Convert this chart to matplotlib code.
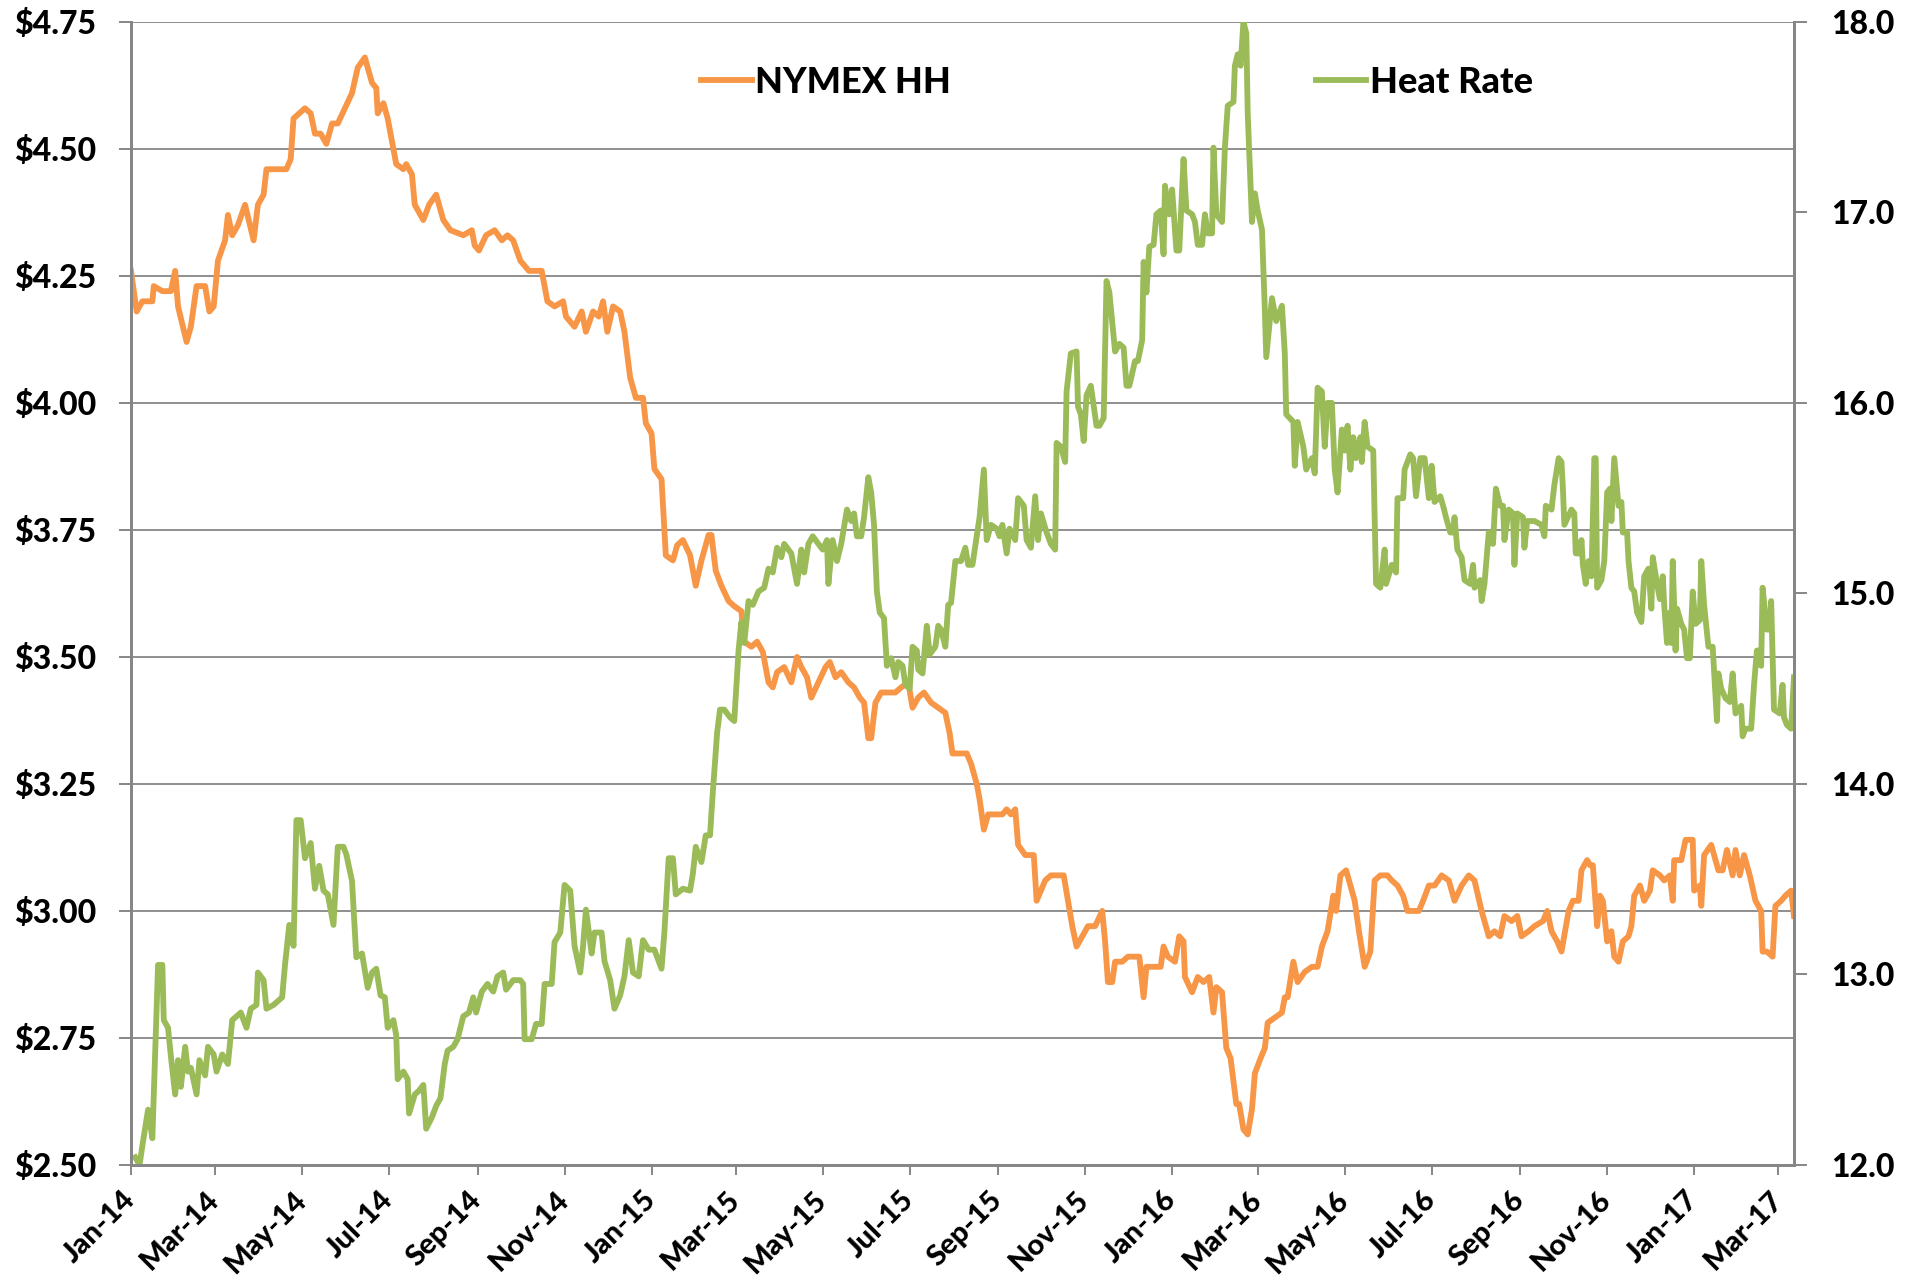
import matplotlib
matplotlib.use('Agg')
import matplotlib.pyplot as plt
import matplotlib.dates as mdates
import pandas as pd

plt.rcParams['font.family'] = ['Lato', 'DejaVu Sans']
plt.rcParams['font.weight'] = 'black'

START = pd.Timestamp('2014-01-01')

# NYMEX Henry Hub price ($/MMBtu), days since 2014-01-01
hh_days = [0, 4, 8, 15, 16, 22, 28, 31, 33, 39, 42, 46, 52, 55, 58, 61, 66, 68, 71, 75,
           80, 86, 89, 93, 95, 99, 106, 109, 112, 114, 122, 126, 129, 133, 137, 141, 145, 150, 155, 159,
           164, 169, 172, 173, 177, 180, 186, 191, 193, 197, 199, 205, 209, 214, 219, 224, 233, 239, 241, 244,
           249, 255, 260, 264, 268, 273, 279, 288, 292, 297, 303, 305, 311, 316, 319, 324, 328, 331, 334, 338,
           343, 346, 350, 354, 359, 361, 365, 367, 372, 375, 380, 383, 387, 392, 396, 400, 405, 407, 410, 414,
           419, 423, 428, 430, 435, 439, 443, 447, 450, 453, 458, 463, 467, 470, 474, 477, 482, 487, 490, 494,
           498, 503, 507, 511, 514, 517, 519, 522, 526, 531, 536, 540, 545, 548, 552, 556, 561, 566, 571, 574,
           576, 581, 586, 589, 593, 595, 598, 601, 605, 611, 614, 617, 620, 622, 627, 633, 635, 638, 641, 645,
           650, 654, 657, 660, 663, 667, 671, 676, 681, 683, 685, 688, 690, 695, 699, 704, 707, 710, 712, 717,
           722, 724, 727, 732, 735, 738, 739, 744, 748, 752, 756, 759, 761, 765, 768, 771, 775, 777, 780, 783,
           786, 788, 792, 795, 797, 802, 807, 809, 811, 815, 818, 823, 828, 832, 835, 839, 843, 845, 848, 852,
           855, 858, 861, 865, 869, 872, 876, 881, 884, 888, 892, 895, 903, 906, 910, 914, 919, 924, 928, 933,
           938, 942, 947, 952, 956, 960, 963, 968, 972, 975, 980, 984, 990, 993, 996, 1000, 1003, 1008, 1011, 1015,
           1017, 1021, 1023, 1025, 1028, 1030, 1032, 1035, 1038, 1040, 1043, 1046, 1050, 1052, 1054, 1058, 1061, 1065, 1067, 1072,
           1075, 1079, 1081, 1082, 1087, 1090, 1095, 1096, 1100, 1101, 1103, 1108, 1113, 1116, 1119, 1123, 1125, 1128, 1131, 1135,
           1139, 1143, 1144, 1147, 1151, 1153, 1157, 1160, 1164, 1166]
hh_price = [4.26, 4.18, 4.20, 4.20, 4.23, 4.22, 4.22, 4.26, 4.19, 4.12, 4.15, 4.23, 4.23, 4.18, 4.19, 4.28, 4.32, 4.37, 4.33, 4.35,
            4.39, 4.32, 4.39, 4.41, 4.46, 4.46, 4.46, 4.46, 4.48, 4.56, 4.58, 4.57, 4.53, 4.53, 4.51, 4.55, 4.55, 4.58, 4.61, 4.66,
            4.68, 4.63, 4.62, 4.57, 4.59, 4.56, 4.47, 4.46, 4.47, 4.45, 4.39, 4.36, 4.39, 4.41, 4.36, 4.34, 4.33, 4.34, 4.31, 4.30,
            4.33, 4.34, 4.32, 4.33, 4.32, 4.28, 4.26, 4.26, 4.20, 4.19, 4.20, 4.17, 4.15, 4.18, 4.14, 4.18, 4.17, 4.20, 4.14, 4.19,
            4.18, 4.14, 4.05, 4.01, 4.01, 3.96, 3.94, 3.87, 3.85, 3.70, 3.69, 3.72, 3.73, 3.70, 3.64, 3.69, 3.74, 3.74, 3.67, 3.64,
            3.61, 3.60, 3.59, 3.53, 3.52, 3.53, 3.51, 3.45, 3.44, 3.47, 3.48, 3.45, 3.50, 3.48, 3.46, 3.42, 3.45, 3.48, 3.49, 3.46,
            3.47, 3.45, 3.44, 3.42, 3.41, 3.34, 3.34, 3.41, 3.43, 3.43, 3.43, 3.44, 3.45, 3.40, 3.42, 3.43, 3.41, 3.40, 3.39, 3.35,
            3.31, 3.31, 3.31, 3.29, 3.25, 3.22, 3.16, 3.19, 3.19, 3.19, 3.20, 3.19, 3.20, 3.13, 3.11, 3.11, 3.02, 3.04, 3.06, 3.07,
            3.07, 3.07, 3.02, 2.97, 2.93, 2.95, 2.97, 2.97, 3.00, 2.94, 2.86, 2.86, 2.90, 2.90, 2.91, 2.91, 2.91, 2.83, 2.89, 2.89,
            2.89, 2.93, 2.91, 2.90, 2.95, 2.94, 2.87, 2.84, 2.87, 2.86, 2.87, 2.80, 2.85, 2.84, 2.73, 2.71, 2.62, 2.62, 2.57, 2.56,
            2.61, 2.68, 2.71, 2.73, 2.78, 2.79, 2.80, 2.83, 2.83, 2.90, 2.86, 2.88, 2.89, 2.89, 2.93, 2.96, 3.03, 3.00, 3.07, 3.08,
            3.05, 3.02, 2.96, 2.89, 2.92, 3.06, 3.07, 3.07, 3.06, 3.05, 3.03, 3.00, 3.00, 3.02, 3.05, 3.05, 3.07, 3.06, 3.02, 3.05,
            3.07, 3.06, 3.00, 2.95, 2.96, 2.95, 2.99, 2.98, 2.99, 2.95, 2.96, 2.97, 2.98, 3.00, 2.96, 2.94, 2.92, 3.00, 3.02, 3.02,
            3.08, 3.10, 3.09, 3.09, 2.97, 3.03, 3.02, 2.94, 2.96, 2.91, 2.90, 2.94, 2.95, 2.97, 3.03, 3.05, 3.02, 3.04, 3.08, 3.07,
            3.06, 3.07, 3.02, 3.10, 3.10, 3.14, 3.14, 3.04, 3.05, 3.01, 3.11, 3.13, 3.08, 3.08, 3.12, 3.07, 3.12, 3.07, 3.11, 3.07,
            3.02, 3.00, 2.92, 2.92, 2.91, 3.01, 3.02, 3.03, 3.04, 2.99]

# Implied heat rate, days since 2014-01-01
hr_days = [3, 6, 9, 12, 15, 17, 19, 22, 23, 26, 28, 31, 33, 35, 38, 40, 42, 46, 48, 52,
           54, 58, 60, 64, 68, 71, 77, 81, 84, 88, 89, 93, 95, 100, 106, 108, 111, 114, 116, 119,
           122, 126, 129, 132, 135, 138, 142, 145, 149, 151, 155, 158, 162, 166, 169, 172, 175, 178, 180, 184,
           186, 187, 191, 194, 195, 199, 202, 205, 207, 211, 214, 217, 220, 222, 226, 229, 233, 237, 240, 242,
           246, 250, 254, 257, 261, 263, 268, 273, 275, 276, 281, 284, 288, 290, 295, 297, 301, 304, 308, 311,
           315, 317, 319, 323, 325, 330, 332, 336, 339, 343, 346, 349, 352, 356, 359, 363, 367, 370, 372, 374,
           377, 380, 382, 387, 392, 394, 396, 400, 403, 406, 408, 411, 413, 416, 420, 423, 426, 428, 430, 433,
           436, 440, 444, 447, 450, 453, 456, 458, 463, 467, 470, 472, 475, 478, 482, 485, 488, 489, 492, 495,
           498, 502, 505, 507, 509, 512, 514, 517, 519, 521, 523, 525, 528, 530, 533, 536, 538, 541, 543, 546,
           548, 551, 552, 555, 558, 560, 564, 566, 568, 571, 573, 575, 578, 582, 585, 587, 590, 593, 595, 598,
           600, 603, 607, 609, 611, 614, 616, 620, 622, 626, 628, 631, 634, 636, 638, 642, 645, 648, 649, 652,
           655, 656, 659, 663, 664, 666, 668, 670, 673, 677, 679, 682, 684, 686, 690, 693, 696, 698, 700, 704,
           706, 709, 710, 712, 714, 717, 719, 722, 724, 725, 728, 730, 733, 735, 738, 740, 744, 746, 748, 751,
           753, 755, 758, 759, 761, 765, 767, 769, 773, 774, 776, 778, 780, 782, 783, 786, 788, 790, 793, 795,
           796, 800, 803, 807, 809, 810, 815, 816, 818, 822, 824, 828, 830, 832, 835, 837, 839, 842, 844, 846,
           849, 851, 853, 855, 857, 859, 862, 863, 865, 867, 871, 873, 876, 879, 880, 884, 887, 888, 892, 893,
           897, 899, 901, 904, 907, 910, 912, 914, 918, 920, 922, 925, 927, 928, 930, 933, 935, 939, 941, 942,
           946, 947, 949, 952, 955, 957, 960, 962, 963, 966, 969, 970, 972, 976, 977, 979, 984, 989, 991, 992,
           996, 998, 1001, 1003, 1004, 1005, 1010, 1012, 1013, 1016, 1017, 1018, 1020, 1022, 1024, 1026, 1027, 1028, 1031, 1033,
           1035, 1037, 1038, 1040, 1043, 1045, 1046, 1049, 1050, 1052, 1054, 1056, 1059, 1061, 1064, 1066, 1067, 1070, 1072, 1074,
           1075, 1077, 1079, 1080, 1081, 1083, 1084, 1087, 1089, 1091, 1093, 1095, 1097, 1100, 1101, 1103, 1106, 1109, 1112, 1113,
           1115, 1118, 1121, 1123, 1125, 1127, 1129, 1130, 1132, 1136, 1138, 1140, 1142, 1143, 1144, 1147, 1149, 1150, 1152, 1156,
           1158, 1159, 1161, 1164, 1166]
hr_value = [12.04, 12.00, 12.15, 12.29, 12.14, 12.60, 13.05, 13.05, 12.76, 12.72, 12.57, 12.37, 12.55, 12.41, 12.62, 12.49, 12.51, 12.37, 12.55, 12.47,
            12.62, 12.58, 12.49, 12.58, 12.53, 12.76, 12.80, 12.72, 12.82, 12.84, 13.01, 12.97, 12.82, 12.84, 12.88, 13.05, 13.26, 13.15, 13.81, 13.81,
            13.61, 13.69, 13.45, 13.57, 13.44, 13.42, 13.26, 13.67, 13.67, 13.63, 13.49, 13.09, 13.11, 12.93, 13.01, 13.03, 12.89, 12.88, 12.72, 12.76,
            12.68, 12.45, 12.49, 12.45, 12.27, 12.37, 12.39, 12.42, 12.19, 12.25, 12.31, 12.35, 12.53, 12.60, 12.62, 12.66, 12.78, 12.80, 12.88, 12.80,
            12.91, 12.95, 12.91, 12.99, 13.01, 12.92, 12.97, 12.97, 12.95, 12.66, 12.66, 12.74, 12.74, 12.95, 12.95, 13.17, 13.22, 13.47, 13.44, 13.15,
            13.01, 13.15, 13.34, 13.11, 13.22, 13.22, 13.07, 12.97, 12.82, 12.89, 12.99, 13.18, 13.01, 12.99, 13.18, 13.13, 13.13, 13.07, 13.03, 13.22,
            13.61, 13.61, 13.42, 13.45, 13.44, 13.53, 13.67, 13.59, 13.73, 13.73, 13.96, 14.27, 14.39, 14.39, 14.35, 14.33, 14.70, 14.85, 14.74, 14.96,
            14.94, 15.01, 15.03, 15.13, 15.11, 15.24, 15.19, 15.26, 15.21, 15.05, 15.23, 15.11, 15.26, 15.30, 15.26, 15.23, 15.28, 15.05, 15.28, 15.17,
            15.26, 15.44, 15.38, 15.42, 15.30, 15.30, 15.40, 15.61, 15.53, 15.36, 15.01, 14.90, 14.87, 14.62, 14.66, 14.56, 14.64, 14.62, 14.52, 14.50,
            14.72, 14.70, 14.60, 14.58, 14.83, 14.68, 14.72, 14.83, 14.81, 14.72, 14.94, 14.95, 15.17, 15.17, 15.24, 15.15, 15.15, 15.30, 15.40, 15.65,
            15.28, 15.36, 15.34, 15.30, 15.36, 15.21, 15.34, 15.28, 15.50, 15.46, 15.28, 15.24, 15.51, 15.28, 15.42, 15.32, 15.26, 15.23, 15.79, 15.77,
            15.69, 16.06, 16.26, 16.27, 15.98, 15.94, 15.80, 16.04, 16.09, 15.88, 15.88, 15.92, 16.64, 16.58, 16.27, 16.31, 16.29, 16.09, 16.09, 16.22,
            16.22, 16.33, 16.74, 16.58, 16.82, 16.83, 16.99, 17.01, 16.78, 17.14, 16.99, 17.12, 16.80, 16.80, 17.28, 17.01, 16.99, 16.95, 16.83, 16.83,
            16.99, 16.89, 16.89, 17.34, 16.99, 16.95, 17.34, 17.56, 17.58, 17.77, 17.83, 17.77, 18.00, 17.94, 17.52, 16.95, 17.10, 17.01, 16.91, 16.49,
            16.24, 16.55, 16.43, 16.51, 16.26, 15.94, 15.90, 15.67, 15.90, 15.77, 15.65, 15.71, 15.63, 16.08, 16.06, 15.77, 16.00, 16.00, 15.65, 15.53,
            15.86, 15.75, 15.88, 15.65, 15.82, 15.71, 15.82, 15.69, 15.90, 15.77, 15.75, 15.05, 15.03, 15.23, 15.05, 15.15, 15.11, 15.50, 15.50, 15.65,
            15.73, 15.71, 15.51, 15.71, 15.71, 15.50, 15.67, 15.48, 15.51, 15.46, 15.40, 15.32, 15.32, 15.40, 15.23, 15.19, 15.07, 15.05, 15.15, 15.03,
            15.07, 14.96, 15.05, 15.32, 15.26, 15.55, 15.46, 15.46, 15.28, 15.44, 15.42, 15.15, 15.42, 15.40, 15.24, 15.38, 15.38, 15.36, 15.30, 15.46,
            15.44, 15.57, 15.71, 15.69, 15.55, 15.36, 15.44, 15.42, 15.21, 15.21, 15.28, 15.15, 15.05, 15.17, 15.09, 15.71, 15.71, 15.03, 15.07, 15.17,
            15.53, 15.55, 15.38, 15.71, 15.46, 15.48, 15.32, 15.32, 15.17, 15.03, 15.01, 14.90, 14.85, 15.09, 15.13, 14.92, 15.19, 15.05, 14.97, 15.09,
            14.94, 14.74, 14.90, 14.74, 15.17, 14.70, 14.92, 14.84, 14.81, 14.66, 14.66, 15.01, 14.84, 14.86, 15.17, 14.94, 14.72, 14.72, 14.33, 14.58,
            14.50, 14.45, 14.43, 14.58, 14.37, 14.39, 14.41, 14.25, 14.29, 14.29, 14.52, 14.70, 14.70, 14.62, 15.03, 14.81, 14.81, 14.96, 14.39, 14.37,
            14.52, 14.35, 14.31, 14.29, 14.56]

left_ticks = [2.50, 2.75, 3.00, 3.25, 3.50, 3.75, 4.00, 4.25, 4.50, 4.75]
right_ticks = [12.0, 13.0, 14.0, 15.0, 16.0, 17.0, 18.0]

ORANGE = '#F79646'
GREEN = '#9BBB59'
GRID = '#868686'

hh_dates = START + pd.to_timedelta(hh_days, unit='D')
hr_dates = START + pd.to_timedelta(hr_days, unit='D')

fig = plt.figure(figsize=(19.23, 12.81), dpi=100)
ax = fig.add_axes([0.0681, 0.0906, 0.8648, 0.8923])
ax2 = ax.twinx()

l1, = ax.plot(hh_dates, hh_price, color=ORANGE, lw=4.2, solid_joinstyle='round', label='NYMEX HH')
l2, = ax2.plot(hr_dates, hr_value, color=GREEN, lw=4.2, solid_joinstyle='round', label='Heat Rate')

ax.set_ylim(2.50, 4.75)
ax2.set_ylim(12.0, 18.0)
ax.set_xlim(START, START + pd.Timedelta(days=1166))

ax.set_yticks(left_ticks)
ax.set_yticklabels([f'${v:.2f}' for v in left_ticks])
ax2.set_yticks(right_ticks)
ax2.set_yticklabels([f'{v:.1f}' for v in right_ticks])

ax.xaxis.set_major_locator(mdates.MonthLocator(bymonth=[1, 3, 5, 7, 9, 11]))
ax.xaxis.set_major_formatter(mdates.DateFormatter('%b-%y'))

ax.grid(axis='y', color=GRID, lw=1.3)
ax.set_axisbelow(True)

for a in (ax, ax2):
    a.spines['top'].set_visible(False)
    for s in ('left', 'right', 'bottom'):
        a.spines[s].set_color(GRID)
        a.spines[s].set_linewidth(2.0)
    a.tick_params(colors=GRID, labelcolor='black', length=9, width=1.4)

ax.tick_params(axis='x', labelsize=21, pad=15, length=7)
ax.tick_params(axis='y', labelsize=23, pad=16)
ax2.tick_params(axis='y', labelsize=23, pad=18)

for lab in ax.get_xticklabels():
    lab.set_rotation(45)
    lab.set_ha('right')
    lab.set_va('center')
    lab.set_rotation_mode('anchor')
    lab.set_fontweight('black')
for lab in ax.get_yticklabels() + ax2.get_yticklabels():
    lab.set_fontweight('black')

ax.legend(handles=[l1, l2], loc='center', bbox_to_anchor=(0.593, 0.947), ncol=2,
          frameon=False, handlelength=1.4, handletextpad=0.1,
          columnspacing=10.1, prop={'weight': 'black', 'size': 26})

fig.savefig('out.png', dpi=100)
